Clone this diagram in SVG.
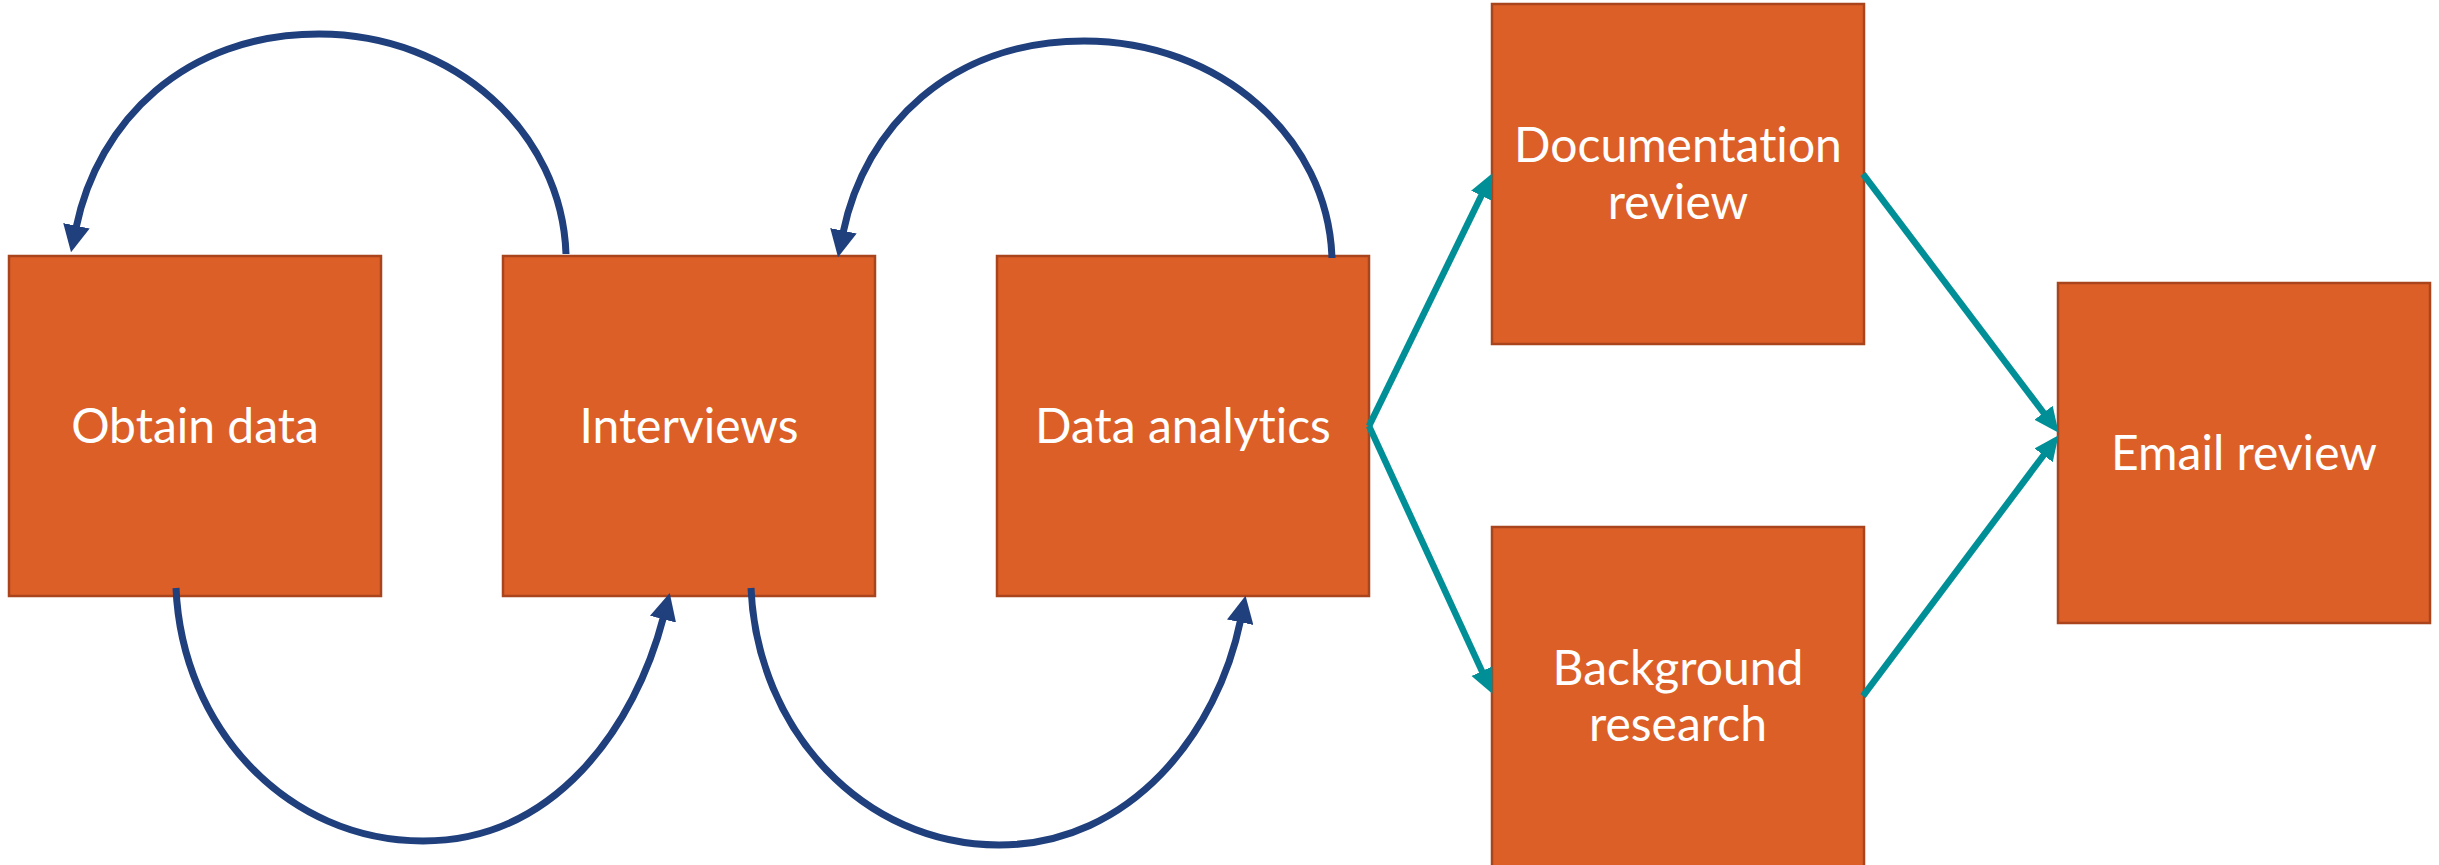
<svg xmlns="http://www.w3.org/2000/svg" width="2439" height="865" viewBox="0 0 2439 865">
  <style>
    .box { fill: #DC5F27; stroke: #A9441C; stroke-width: 2.5; }
    .lbl { font-family: Lato, "Open Sans", "Liberation Sans", sans-serif; font-size: 48px; fill: #FFFFFF; text-anchor: middle; font-variant-ligatures: none; font-feature-settings: "liga" 0, "clig" 0; }
    .loop { fill: none; stroke: #1F3F7D; stroke-width: 7; }
    .flow { fill: none; stroke: #008F96; stroke-width: 6.5; }
  </style>
  <defs>
    <marker id="navyArrow" markerUnits="userSpaceOnUse" markerWidth="27" markerHeight="27" viewBox="0 0 24 24" refX="2" refY="12" orient="auto">
      <path d="M0,0 L24,12 L0,24 z" fill="#1F3F7D"/>
    </marker>
    <marker id="tealArrow" markerUnits="userSpaceOnUse" markerWidth="25" markerHeight="25" viewBox="0 0 24 24" refX="2" refY="12" orient="auto">
      <path d="M0,1 L24,12 L0,23 z" fill="#008F96"/>
    </marker>
  </defs>
  <rect width="2439" height="865" fill="#FFFFFF"/>

  <g id="obtain-data">
    <rect class="box" x="9" y="256" width="372" height="340"/>
    <text class="lbl" x="195" y="443">Obtain data</text>
  </g>
  <g id="interviews">
    <rect class="box" x="503" y="256" width="372" height="340"/>
    <text class="lbl" x="689" y="443">Interviews</text>
  </g>
  <g id="data-analytics">
    <rect class="box" x="997" y="256" width="372" height="340"/>
    <text class="lbl" x="1183" y="443">Data analytics</text>
  </g>
  <g id="documentation-review">
    <rect class="box" x="1492" y="4" width="372" height="340"/>
    <text class="lbl" x="1678" y="162">Documentation</text>
    <text class="lbl" x="1678" y="219">review</text>
  </g>
  <g id="background-research">
    <rect class="box" x="1492" y="527" width="372" height="340"/>
    <text class="lbl" x="1678" y="685">Background</text>
    <text class="lbl" x="1678" y="741">research</text>
  </g>
  <g id="email-review">
    <rect class="box" x="2058" y="283" width="372" height="340"/>
    <text class="lbl" x="2244" y="470">Email review</text>
  </g>

  <g id="connectors">
    <path class="loop" marker-end="url(#navyArrow)" d="M566,254 C562,133 455,34 319,34 C185,34 98,121 76,228"/>
    <path class="loop" marker-end="url(#navyArrow)" d="M1332,258 C1328,137 1220,41 1084,41 C951,41 865,126 843,233"/>
    <path class="loop" marker-end="url(#navyArrow)" d="M176,588 C182,728 287,841 423,841 C555,841 635,727 663.5,617"/>
    <path class="loop" marker-end="url(#navyArrow)" d="M751,588 C757,730 863,845 999,845 C1132,845 1218,731 1240.6,620"/>
    <path class="flow" marker-end="url(#tealArrow)" d="M1369,426 L1482.3,193.8"/>
    <path class="flow" marker-end="url(#tealArrow)" d="M1369,426 L1482.8,673"/>
    <path class="flow" marker-end="url(#tealArrow)" d="M1863,174 L2044.8,414.4"/>
    <path class="flow" marker-end="url(#tealArrow)" d="M1863,696 L2044.8,453.6"/>
  </g>
</svg>
